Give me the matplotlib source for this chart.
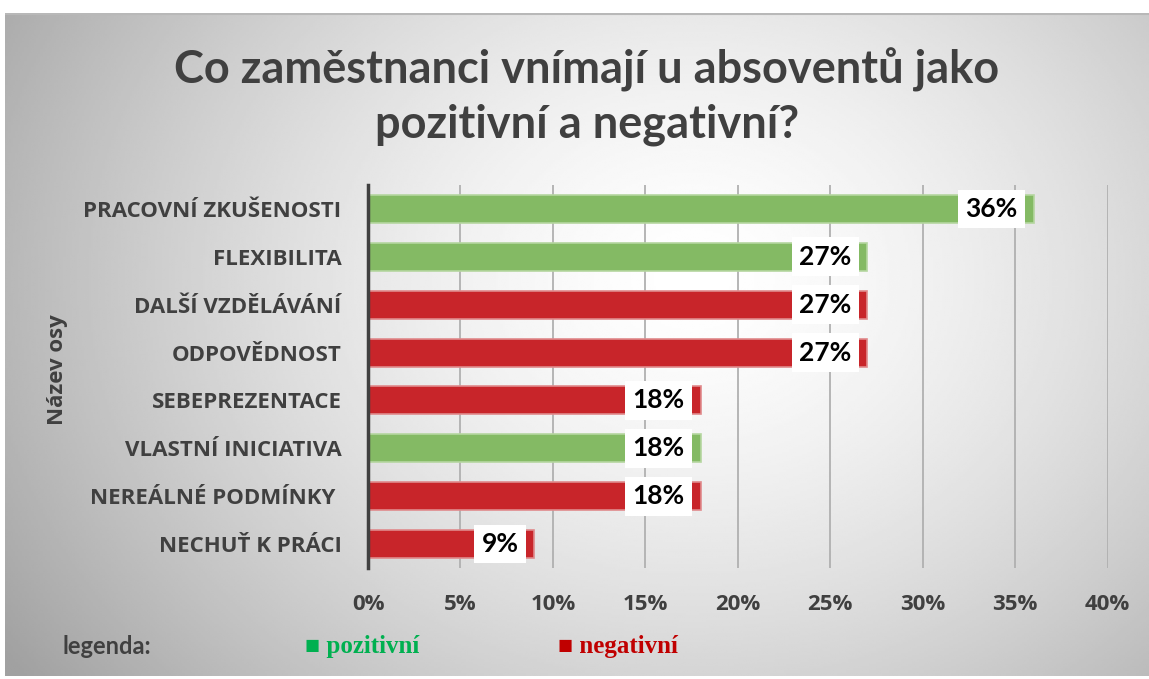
import numpy as np
import matplotlib.pyplot as plt

categories = ["PRACOVNÍ ZKUŠENOSTI", "FLEXIBILITA", "DALŠÍ VZDĚLÁVÁNÍ", "ODPOVĚDNOST",
              "SEBEPREZENTACE", "VLASTNÍ INICIATIVA", "NEREÁLNÉ PODMÍNKY ", "NECHUŤ K PRÁCI"]
values = [36, 27, 27, 27, 18, 18, 18, 9]
kinds = ["pozitivní", "pozitivní", "negativní", "negativní",
         "negativní", "pozitivní", "negativní", "negativní"]
xticks = [0, 5, 10, 15, 20, 25, 30, 35, 40]

fill = {"pozitivní": "#84BA64", "negativní": "#C8252A"}
edge = {"pozitivní": "#B5D6A0", "negativní": "#E08A8C"}
dark = "#404040"

fig = plt.figure(figsize=(11.49, 6.79), dpi=100)
fig.patch.set_facecolor("white")

# radial grey background panel
bg = fig.add_axes([5 / 1149, 3 / 679, 1 - 5 / 1149, 663 / 679], zorder=-10)
h, w = 300, 500
yy, xx = np.mgrid[0:h, 0:w]
r = np.sqrt(((xx - 0.60 * w) / (0.60 * w)) ** 2 + ((yy - 0.40 * h) / (0.85 * h)) ** 2)
shade = 1 - 0.28 * np.clip(r, 0, 1.2) ** 1.5
bg.imshow(shade, cmap="gray", vmin=0, vmax=1, aspect="auto", interpolation="bilinear")
bg.axhline(0, color="#b8b8b8", lw=1.5)
bg.axis("off")

ax = fig.add_axes([368 / 1149, 111 / 679, 739.5 / 1149, 383 / 679])
ax.patch.set_alpha(0)

y = np.arange(len(categories))
ax.barh(y, values, height=0.585,
        color=[fill[k] for k in kinds], edgecolor=[edge[k] for k in kinds],
        linewidth=1.2, zorder=3)

for yi, v in zip(y, values):
    ax.annotate(f"{v}%", (v, yi), xytext=(-16, 0), textcoords="offset pixels",
                ha="right", va="center", fontsize=19, fontweight="bold",
                family="Lato", color="black", zorder=5,
                bbox=dict(boxstyle="square,pad=0.28", fc="white", ec="none"))

ax.set_xlim(0, 40)
ax.set_ylim(len(categories) - 0.5, -0.5)
ax.set_xticks(xticks)
ax.set_xticklabels([f"{t}%" for t in xticks])
ax.set_yticks(y)
ax.set_yticklabels(categories)
ax.grid(axis="x", color="#b0b0b0", lw=1.3, zorder=0)
ax.tick_params(length=0)
ax.tick_params(axis="x", pad=19)
ax.tick_params(axis="y", pad=19)
for lbl in ax.get_xticklabels() + ax.get_yticklabels():
    lbl.set_fontfamily("Open Sans")
    lbl.set_fontweight("bold")
    lbl.set_color(dark)
    lbl.set_fontsize(16)
for s in ["top", "right", "bottom"]:
    ax.spines[s].set_visible(False)
ax.spines["left"].set_color(dark)
ax.spines["left"].set_linewidth(2.5)
ax.spines["left"].set_zorder(6)

fig.text(58 / 1149, 1 - 370 / 679, "Název osy", rotation=90, ha="center", va="center",
         fontsize=16, fontweight="bold", family="Open Sans", color=dark)

fig.text(587 / 1149, 1 - 97 / 679, "Co zaměstnanci vnímají u absoventů jako\npozitivní a negativní?",
         ha="center", va="center", fontsize=32.5, fontweight="bold", family="Lato",
         color=dark, linespacing=1.35)

fig.text(62 / 1149, 1 - 646 / 679, "legenda:", ha="left", va="center",
         fontsize=17, fontweight="bold", family="Lato", color=dark)
fig.text(305 / 1149, 1 - 646 / 679, "■ pozitivní", ha="left", va="center",
         fontsize=18, fontweight="bold", family=["Liberation Serif", "DejaVu Sans"], color="#00B050")
fig.text(558 / 1149, 1 - 646 / 679, "■ negativní", ha="left", va="center",
         fontsize=18, fontweight="bold", family=["Liberation Serif", "DejaVu Sans"], color="#C00000")

fig.savefig("out.png", dpi=100)
